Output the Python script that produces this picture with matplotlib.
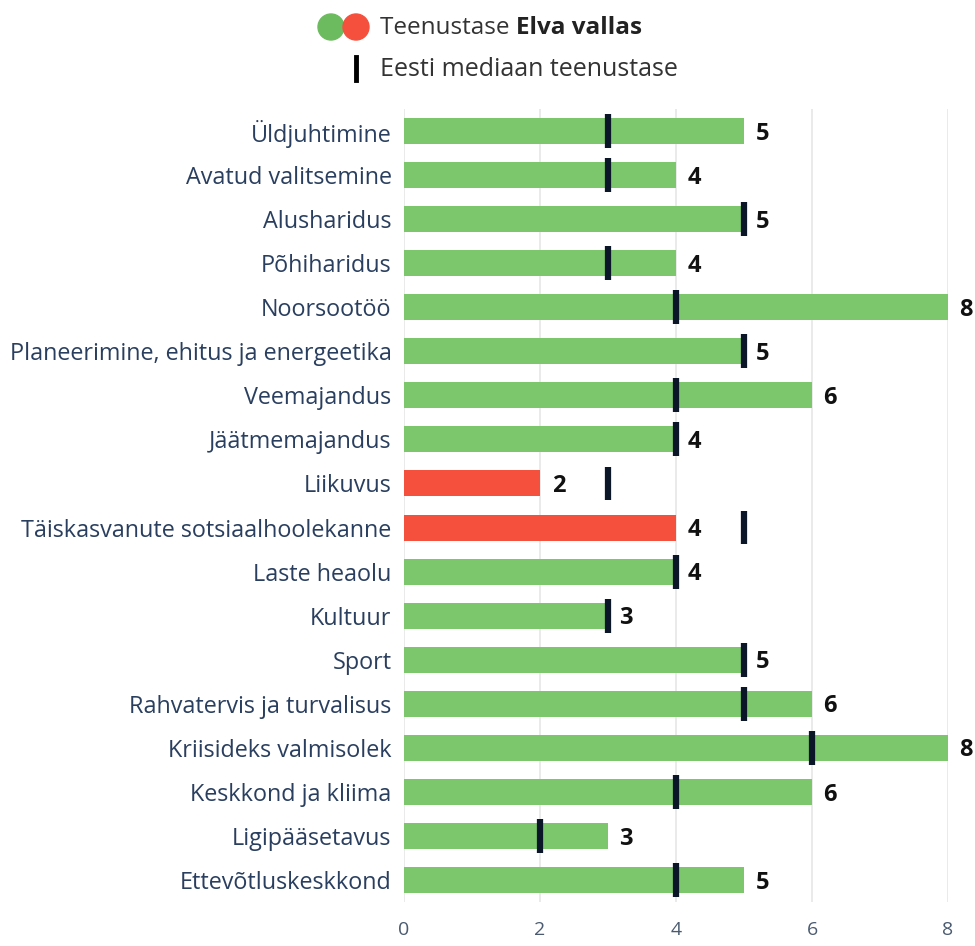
import numpy as np
import matplotlib.pyplot as plt
from matplotlib.patches import Circle

categories = [
    "Üldjuhtimine", "Avatud valitsemine", "Alusharidus", "Põhiharidus",
    "Noorsootöö", "Planeerimine, ehitus ja energeetika", "Veemajandus",
    "Jäätmemajandus", "Liikuvus", "Täiskasvanute sotsiaalhoolekanne",
    "Laste heaolu", "Kultuur", "Sport", "Rahvatervis ja turvalisus",
    "Kriisideks valmisolek", "Keskkond ja kliima", "Ligipääsetavus",
    "Ettevõtluskeskkond",
]
values = [5, 4, 5, 4, 8, 5, 6, 4, 2, 4, 4, 3, 5, 6, 8, 6, 3, 5]
medians = [3, 3, 5, 3, 4, 5, 4, 4, 3, 5, 4, 3, 5, 5, 6, 4, 2, 4]
xticks = [0, 2, 4, 6, 8]

GREEN = "#7cc76c"
RED = "#f5503d"
NAVY = "#0b1629"
TEXT = "#2a3f5f"

plt.rcParams["font.family"] = ["Open Sans", "DejaVu Sans"]

fig = plt.figure(figsize=(9.75, 9.46), dpi=100)
ax = fig.add_axes([404 / 975, 44 / 946, (948 - 404) / 975, (837 - 44) / 946])

y = np.arange(len(categories))
colors = [GREEN if v >= m else RED for v, m in zip(values, medians)]
ax.barh(y, values, height=0.59, color=colors, zorder=2)
ax.vlines(medians, y - 0.385, y + 0.385, color=NAVY, linewidth=4.5, zorder=3)

for yi, v in zip(y, values):
    ax.text(v + 0.17, yi + 0.06, str(v), va="center", ha="left",
            fontsize=17, fontweight="bold", color="#111111")

ax.set_ylim(len(categories) - 0.5, -0.5)
ax.set_xlim(0, 8)
ax.set_yticks(y)
ax.set_yticklabels(categories, fontsize=16.8, color=TEXT)
ax.set_xticks(xticks)
ax.set_xticklabels([str(t) for t in xticks], fontsize=14, color="#4a5a70")
ax.tick_params(axis="both", length=0)
ax.tick_params(axis="y", pad=9)
ax.tick_params(axis="x", pad=14)
ax.grid(axis="x", color="#e6e6e6", linewidth=1.2, zorder=0)
for s in ax.spines.values():
    s.set_visible(False)

# legend drawn by hand in figure pixel coordinates
fig.patches.append(Circle((331, 946 - 27), 13, transform=None, color="#6dbb5f"))
fig.patches.append(Circle((356, 946 - 27), 13, transform=None, color=RED))
t1 = fig.text(380 / 975, 1 - 28 / 946, "Teenustase ", fontsize=17.5, color="#333333",
              va="center", ha="left")
ax.annotate("Elva vallas", xy=(1, 0.5), xycoords=t1, fontsize=17.5, color="#222222",
            fontweight="bold", va="center", ha="left", annotation_clip=False)
fig.lines.append(plt.Line2D([356 / 975, 356 / 975], [1 - 57 / 946, 1 - 80 / 946],
                            transform=fig.transFigure, color="black", linewidth=3.5))
fig.text(380 / 975, 1 - 69 / 946, "Eesti mediaan teenustase", fontsize=18,
         color="#333333", va="center", ha="left")

fig.savefig("out.png", dpi=100)
